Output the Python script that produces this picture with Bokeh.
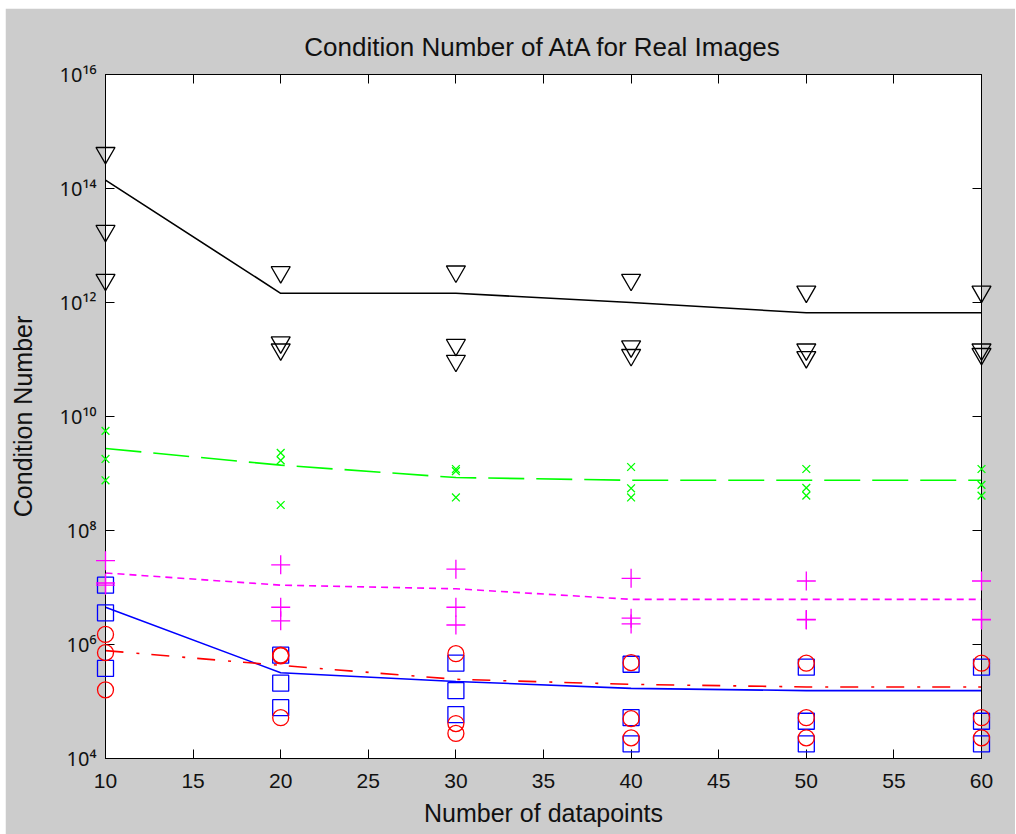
from bokeh.plotting import figure
from bokeh.models import ColumnDataSource, FixedTicker, LinearAxis, LogAxis, CustomJSTickFormatter, Range1d
from bokeh.embed import file_html
from bokeh.resources import INLINE

# ---------------- data ----------------
n_points = [10, 20, 30, 40, 50, 60]

# three trials per number of datapoints, for each method
black_pts = [[4.2e14, 1.8e13, 2.5e12], [3.4e12, 2.0e11, 1.5e11], [3.5e12, 1.8e11, 9.5e10],
             [2.5e12, 1.7e11, 1.2e11], [1.55e12, 1.5e11, 1.1e11], [1.55e12, 1.5e11, 1.25e11]]
black_mean = [1.4e14, 1.45e12, 1.45e12, 1.0e12, 6.6e11, 6.6e11]

green_pts = [[5.6e9, 1.8e9, 7.6e8], [2.3e9, 1.7e9, 2.8e8], [1.2e9, 1.1e9, 3.8e8],
             [1.3e9, 5.5e8, 3.8e8], [1.2e9, 5.6e8, 4.1e8], [1.2e9, 6.3e8, 4.1e8]]
green_mean = [2.75e9, 1.4e9, 8.5e8, 7.6e8, 7.6e8, 7.6e8]

magenta_pts = [[2.95e7, 1.2e7, 1.1e7], [2.5e7, 4.5e6, 2.6e6], [2.1e7, 4.5e6, 2.2e6],
               [1.45e7, 2.9e6, 2.3e6], [1.3e7, 2.75e6, 2.7e6], [1.3e7, 2.75e6, 2.7e6]]
magenta_mean = [1.8e7, 1.1e7, 9.5e6, 6.2e6, 6.2e6, 6.2e6]

blue_pts = [[1.1e7, 3.6e6, 3.8e5], [6.5e5, 2.1e5, 7.8e4], [4.7e5, 1.55e5, 5.9e4],
            [4.5e5, 5.2e4, 1.8e4], [4.0e5, 4.5e4, 1.8e4], [4.0e5, 4.5e4, 1.8e4]]
blue_mean = [4.5e6, 3.2e5, 2.25e5, 1.7e5, 1.55e5, 1.55e5]

red_pts = [[1.5e6, 7.2e5, 1.6e5], [6.5e5, 6.3e5, 5.2e4], [6.9e5, 4.1e4, 2.75e4],
           [4.8e5, 5.0e4, 2.3e4], [4.7e5, 5.2e4, 2.3e4], [4.7e5, 5.2e4, 2.3e4]]
red_mean = [7.8e5, 4.3e5, 2.45e5, 2.0e5, 1.8e5, 1.8e5]

x_ticks = [10, 15, 20, 25, 30, 35, 40, 45, 50, 55, 60]
y_tick_values = [1e4, 1e6, 1e8, 1e10, 1e12, 1e14, 1e16]
y_tick_labels = ["10\u2074", "10\u2076", "10\u2078", "10\u00b9\u2070", "10\u00b9\u00b2", "10\u00b9\u2074", "10\u00b9\u2076"]

title_text = "Condition Number of AtA for Real Images"
x_label = "Number of datapoints"
y_label = "Condition Number"

# ---------------- figure ----------------
FONT = "Liberation Sans"
TICK_FONT_Y = "Noto Sans"
BG = "#cccccc"

p = figure(width=1011, height=826, output_backend="svg", toolbar_location=None,
           y_axis_type="log", x_range=Range1d(10, 60), y_range=Range1d(1e4, 1e16),
           frame_width=876, frame_height=684,
           min_border_left=100, min_border_top=66, min_border_right=34, min_border_bottom=76,
           title=title_text)
p.margin = (8, 0, 0, 5)
p.background_fill_color = "white"
p.border_fill_color = BG
p.outline_line_color = "black"
p.outline_line_width = 1
p.xgrid.grid_line_color = None
p.ygrid.grid_line_color = None

p.title.align = "center"
p.title.text_font = FONT
p.title.text_font_size = "26px"
p.title.text_font_style = "normal"
p.title.text_color = "#111111"
p.title.standoff = 25


def flat(xs, pts):
    fx, fy = [], []
    for x, row in zip(xs, pts):
        for v in row:
            fx.append(x)
            fy.append(v)
    return fx, fy


series = [
    (black_pts, black_mean, "black", "inverted_triangle", 19, "solid"),
    (green_pts, green_mean, "#00ff00", "x", 11, "36 12"),
    (blue_pts, blue_mean, "#0000ff", "square", 16, "solid"),
    (red_pts, red_mean, "#ff0000", "circle", 16, "18 13 3 12"),
    (magenta_pts, magenta_mean, "#ff00ff", "cross", 19, "7 5"),
]

for pts, mean, color, marker, size, dash in series:
    lsrc = ColumnDataSource(dict(x=n_points, y=mean))
    p.line("x", "y", source=lsrc, line_color=color, line_width=1.6, line_dash=dash)
    fx, fy = flat(n_points, pts)
    src = ColumnDataSource(dict(x=fx, y=fy))
    p.scatter("x", "y", source=src, marker=marker, size=size, line_color=color,
              fill_color=None, line_width=1.3, level="overlay")

# ---------------- axes ----------------
fmt = CustomJSTickFormatter(args=dict(vals=y_tick_values, labs=y_tick_labels), code="""
const i = vals.findIndex(v => Math.abs(Math.log10(v) - Math.log10(tick)) < 1e-6);
return i >= 0 ? labs[i] : '';
""")


def style_axis(ax, show_labels=True):
    ax.axis_line_color = "black"
    ax.axis_line_width = 1
    ax.major_tick_in = 9
    ax.major_tick_out = 0
    ax.minor_tick_line_color = None
    ax.major_tick_line_color = "black"
    ax.major_tick_line_width = 1
    if show_labels:
        ax.major_label_text_font = FONT
        ax.major_label_text_font_size = "21px"
        ax.major_label_text_color = "#111111"
        ax.axis_label_text_font = FONT
        ax.axis_label_text_font_size = "25px"
        ax.axis_label_text_font_style = "normal"
        ax.axis_label_text_color = "#111111"
    else:
        ax.major_label_text_font_size = "0px"
        ax.major_label_text_color = None
        ax.major_label_standoff = 0


xax = p.xaxis[0]
xax.ticker = FixedTicker(ticks=x_ticks)
xax.axis_label = x_label
style_axis(xax)
xax.major_label_standoff = 15
xax.axis_label_standoff = 8

yax = p.yaxis[0]
yax.ticker = FixedTicker(ticks=y_tick_values)
yax.formatter = fmt
yax.axis_label = y_label
style_axis(yax)
yax.major_label_text_font = TICK_FONT_Y
yax.major_label_text_font_size = "20px"
yax.major_label_standoff = 9
yax.axis_label_standoff = 20

top = LinearAxis(ticker=FixedTicker(ticks=x_ticks))
style_axis(top, show_labels=False)
p.add_layout(top, "above")

right = LogAxis(ticker=FixedTicker(ticks=y_tick_values))
style_axis(right, show_labels=False)
p.add_layout(right, "right")

open("out.html", "w", encoding="utf-8").write(file_html(p, INLINE))
